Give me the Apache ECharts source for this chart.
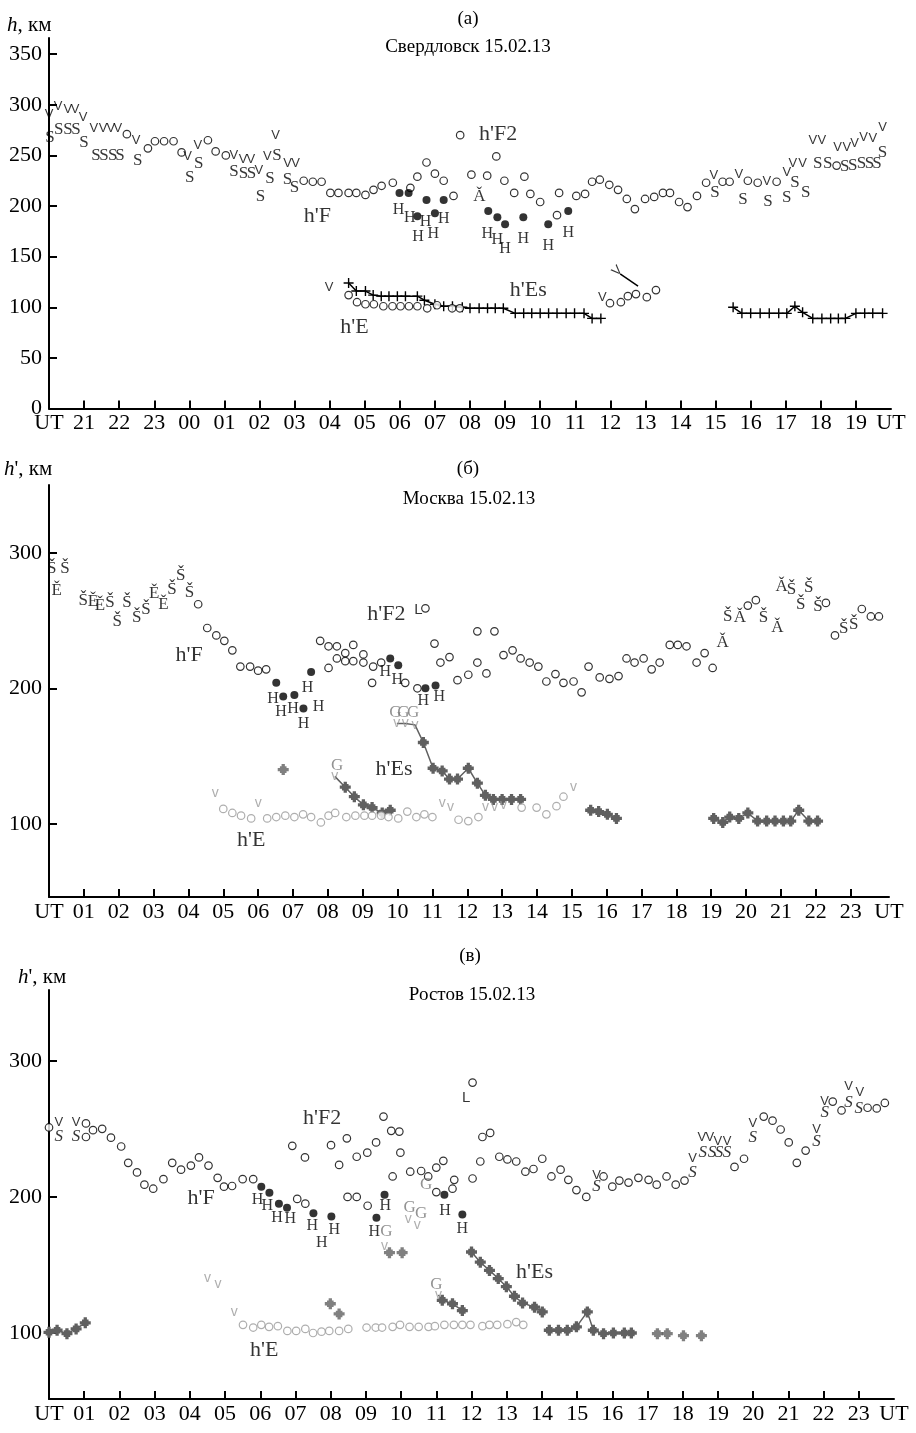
<!DOCTYPE html>
<html>
<head>
<meta charset="utf-8">
<script src="https://cdn.jsdelivr.net/npm/echarts@6/dist/echarts.min.js"></script>
<style>
html, body { margin: 0; background: #fff; }
#chart { width: 916px; height: 1433px; }
</style>
</head>
<body>
<div id="chart"></div>
<script>
// подписи осей
const hoursA = ['21','22','23','00','01','02','03','04','05','06','07','08','09','10','11','12','13','14','15','16','17','18','19']
const hoursBC = ['01','02','03','04','05','06','07','08','09','10','11','12','13','14','15','16','17','18','19','20','21','22','23']
const kmTicksA = [0, 50, 100, 150, 200, 250, 300, 350]
const kmTicksBC = [100, 200, 300]

// (а) Свердловск, часы от 20 UT
const aF2 = [[2.22,271],[2.82,257],[3.02,264],[3.28,264],[3.55,264],[3.78,253],[4.53,265],[4.75,254],[5.04,250],
  [7.26,225],[7.52,224],[7.77,224],[8.02,213],[8.25,213],[8.54,213],[8.76,213],[9.02,211],[9.25,216],[9.48,220],[9.8,223],
  [10.3,218],[10.5,229],[10.76,243],[11.0,232],[11.25,225],[11.53,210],[11.72,270],[12.04,231],[12.49,230],[12.75,249],
  [12.98,225],[13.26,213],[13.55,229],[13.72,212],[14.0,204],[14.48,191],[14.54,213],[15.03,210],[15.28,212],[15.48,224],
  [15.7,226],[15.97,221],[16.22,216],[16.47,207],[16.7,197],[16.99,207],[17.25,209],[17.5,213],[17.7,213],[17.96,204],
  [18.2,199],[18.47,210],[18.73,223],[19.2,224],[19.4,224],[19.92,225],[20.2,223],[20.74,224],[22.45,240]]
const aS = [[0.03,268],[0.28,276],[0.54,276],[0.77,276],[1.0,263],[1.34,250],[1.57,250],[1.82,250],[2.02,250],[2.53,245],
  [4.01,228],[4.27,242],[5.27,234],[5.54,232],[5.77,232],[6.03,209],[6.3,227],[6.5,250],[6.8,226],[7.0,218],
  [18.98,213],[19.78,206],[20.49,204],[21.03,208],[21.26,223],[21.57,213],[21.91,242],[22.2,242],[22.68,239],[22.91,240],
  [23.16,242],[23.39,242],[23.6,242],[23.76,253]]
const aV = [[0,291],[0.26,298],[0.54,295],[0.74,295],[0.97,288],[1.28,277],[1.54,277],[1.76,277],[1.96,277],[2.48,265],
  [3.95,249],[4.24,260],[5.27,250],[5.53,246],[5.75,246],[5.98,235],[6.22,249],[6.46,270],[6.8,242],[7.03,242],
  [7.98,120],[15.77,110],
  [18.95,230],[19.66,231],[20.46,224],[21.03,233],[21.2,242],[21.48,242],[21.77,265],[22.03,265],[22.48,258],[22.74,258],
  [22.96,262],[23.22,268],[23.48,267],[23.76,278]]
const aVtilt = [[16.2,136]]
const aA = [[12.27,209]]
const aDot = [[9.99,213],[10.25,213],[10.5,190],[10.76,206],[11.0,193],[11.25,206],[12.52,195],[12.78,189],[13.0,182],[13.52,189],[14.23,182],[14.8,195]]
const aH = [[9.96,196],[10.28,188],[10.52,170],[10.73,184],[10.95,173],[11.25,187],[12.49,173],[12.78,167],[13.0,158],[13.52,168],[14.23,161],[14.8,174]]
const aEs1 = [[8.54,124],[8.76,116],[9.02,116],[9.24,112],[9.47,111],[9.69,111],[9.93,111],[10.16,111],[10.5,111],[10.7,107],
  [11.0,103],[11.25,101],[11.5,101],[11.78,100],[12.0,99],[12.26,99],[12.5,99],[12.72,99],[12.95,99],[13.29,94],[13.53,94],
  [13.76,94],[14.0,94],[14.24,94],[14.48,94],[14.74,94],[14.98,94],[15.25,94],[15.48,89],[15.73,89]]
const aEs2 = [[19.5,100],[19.75,94],[20.0,94],[20.27,94],[20.53,94],[20.8,94],[21.03,94],[21.26,101],[21.48,95],[21.77,89],
  [22.03,89],[22.28,89],[22.5,89],[22.7,89],[23.0,94],[23.25,94],[23.48,94],[23.76,94]]
const aE = [[8.54,112],[8.78,105],[9.02,103],[9.26,103],[9.53,101],[9.79,101],[10.02,101],[10.26,101],[10.5,101],[10.78,99],
  [11.06,102],[11.49,99],[11.71,99],[15.99,104],[16.3,105],[16.5,111],[16.73,113],[17.04,110],[17.3,117]]
const aArrow = [[16.28,133],[16.79,121]]

// (б) Москва
const bF2 = [[4.28,262],[4.54,244.5],[4.8,239],[5.03,235],[5.26,228],[5.49,216],[5.77,216],[6.0,213],[6.23,214],
  [7.78,235],[8.02,231],[8.26,231],[8.5,226],[8.73,232],[9.02,225],[8.26,222],[8.5,220],[8.73,220],[9.02,219],[9.3,216],
  [8.02,215],[9.27,204],[9.53,219],[10.22,204],[10.57,200],[10.8,259],[11.06,233],[11.23,219],[11.49,223],[11.72,206],
  [12.03,210],[12.29,219],[12.29,242],[12.55,211],[12.78,242],[13.04,224.5],[13.3,228],[13.53,222],[13.79,219],[14.04,216],
  [14.27,205],[14.53,210.5],[14.76,204],[15.05,205],[15.28,197],[15.48,216],[15.8,208],[16.08,207],[16.34,209],[16.57,222],
  [16.8,219],[17.06,222],[17.29,214],[17.52,219],[17.81,232],[18.04,232],[18.29,231],[18.58,219],[18.81,226],[19.04,215],
  [20.05,261],[20.28,265],[22.29,263],[22.55,239],[23.32,258.5],[23.58,253],[23.81,253]]
const bS = [[0.08,288],[0.46,288],[0.98,265],[1.75,263],[1.96,249],[2.24,263],[2.52,252],[2.78,258],[3.53,273],[3.78,283],
  [4.03,271],[19.47,253],[20.5,252],[21.3,273],[21.8,274],[21.57,261.5],[22.06,260],[22.8,244],[23.09,247]]
const bE = [[0.22,272],[1.26,264],[1.46,261],[3.02,270],[3.28,262]]
const bA = [[19.33,234],[19.82,252],[20.9,244.5],[21.02,275]]
const bDot = [[6.52,204],[6.72,194],[7.04,195],[7.3,185],[7.52,212],[9.79,222],[10.02,217],[10.8,200],[11.09,202]]
const bH = [[6.43,192],[6.66,183],[7.0,185],[7.42,200],[7.73,186],[7.3,174],[9.65,212],[9.99,206],[10.74,191],[11.2,194]]
const bL = [[10.6,258]]
const bG = [[8.27,143],[9.94,182],[10.17,182],[10.45,182]]
const bVg = [[4.77,123],[6.0,115],[8.2,135],[9.98,174],[10.22,174],[10.5,173],[11.28,115],[11.52,112],[12.52,112],[12.78,112],[13.04,114],[15.05,127]]
const bEc = [[5.0,111],[5.26,108],[5.51,106],[5.8,104],[6.26,104],[6.52,105],[6.78,106],[7.04,105],[7.29,107],[7.52,105],
  [7.8,101],[8.02,106],[8.21,108],[8.53,105],[8.79,106],[9.05,106],[9.27,106],[9.53,106],[9.74,105],[10.02,104],[10.28,109],
  [10.54,105],[10.77,107],[11.0,105],[11.75,103],[12.03,102],[12.32,105],[13.56,112],[13.99,112],[14.27,107],[14.56,113],[14.76,120]]
const bEsDot = [[6.72,140]]
const bEs1 = [[8.2,135],[8.5,127],[8.76,120],[9.02,114],[9.27,112],[9.56,108],[9.79,110]]
const bEs2 = [[9.98,174],[10.22,174],[10.5,173],[10.74,160],[11.02,141],[11.28,139],[11.49,133],[11.72,133],[12.03,141],
  [12.29,130],[12.52,121],[12.75,118],[13.0,118],[13.27,118],[13.53,118]]
const bEs3 = [[15.54,110],[15.77,109],[16.02,107],[16.28,104]]
const bEs4 = [[19.07,104],[19.33,101],[19.53,105],[19.79,104],[20.05,108],[20.33,102],[20.59,102],[20.83,102],[21.07,102],
  [21.28,102],[21.51,110],[21.8,102],[22.05,102]]

// (в) Ростов
const cF2 = [[0.0,251],[1.05,254],[1.05,244],[1.25,249],[1.51,250],[1.76,243.5],[2.05,237],[2.25,225],[2.5,218],[2.71,209],
  [2.96,206],[3.25,213],[3.5,225],[3.75,220],[4.03,223],[4.26,229],[4.53,223],[4.79,214],[4.97,207.5],[5.2,208],[5.5,213],
  [5.8,213],[6.91,237.5],[7.27,229],[7.05,198.5],[7.28,195],[8.01,238],[8.24,223.5],[8.46,243],[8.74,229.5],[8.48,200],
  [8.74,200],[9.04,232.5],[9.05,193.5],[9.29,240],[9.5,259],[9.72,248.5],[9.95,248],[9.98,232.5],[9.76,215],[10.26,218.5],
  [10.57,219],[10.77,215],[11.0,221.5],[11.0,203.5],[11.2,226.5],[11.46,206],[11.51,212.5],[12.03,284],[12.31,244],
  [12.53,247],[12.25,226],[12.03,213.5],[12.79,229.5],[13.02,227.5],[13.27,226],[13.53,218.5],[13.76,220.5],[14.01,228],
  [14.27,215],[14.53,220],[14.75,212.5],[14.98,205],[15.26,200],[15.75,215],[16.0,207.5],[16.2,212],[16.46,210.5],
  [16.74,214],[17.03,212.5],[17.26,209],[17.54,215],[17.8,209],[18.05,212],[19.47,222],[19.74,228],[20.3,259],[20.55,256],
  [20.78,249.5],[21.01,240],[21.24,225],[21.49,234],[22.26,270],[22.51,263.5],[23.25,265.5],[23.51,265],[23.74,269]]
const cS = [[0.28,244],[0.77,244],[15.55,207.5],[18.28,218],[18.57,232.5],[18.83,232.5],[19.03,232.5],[19.26,232.5],
  [19.99,243.5],[21.8,240.5],[22.03,262],[22.71,269],[23.0,265]]
const cV = [[0.28,255],[0.77,255],[15.55,216],[18.28,228],[18.54,243.5],[18.77,243.5],[19.0,240.5],[19.26,240.5],
  [19.99,254],[21.8,249.5],[22.03,270],[22.71,281],[23.03,276.5]]
const cDot = [[6.03,207.5],[6.26,203],[6.53,195],[6.76,192],[7.51,188],[8.02,185.5],[9.3,184.6],[9.53,201.5],[11.23,201.5],[11.74,187]]
const cH = [[5.92,198],[6.2,193.5],[6.48,185],[6.85,184],[7.48,179],[7.75,166],[8.1,176],[9.24,174],[9.55,193.5],[11.25,190],[11.74,176.5]]
const cL = [[11.85,273]]
const cG = [[9.58,174.5],[10.24,192],[10.57,188],[10.71,209],[11.0,135.5]]
const cVg = [[4.5,140.5],[4.8,136],[5.26,115.5],[9.53,164],[10.2,184],[10.46,179.5],[11.06,128]]
const cEc = [[5.51,106],[5.8,104],[6.03,106],[6.25,104.5],[6.5,105],[6.77,101.5],[7.02,101.5],[7.28,103],[7.5,100],
  [7.74,101],[7.96,101.5],[8.24,101.5],[8.5,103],[9.02,104],[9.28,104],[9.46,104],[9.76,104.5],[9.97,106],[10.24,104.5],
  [10.5,104.5],[10.78,104.5],[10.96,105],[11.23,106],[11.5,106],[11.74,106],[11.97,106],[12.31,105],[12.51,106],
  [12.73,106],[13.02,106.5],[13.27,108],[13.47,106]]
const cEsDot = [[7.99,121.5],[8.24,114],[9.67,159],[10.03,159],[17.28,99.5],[17.56,99.5],[18.02,98],[18.53,98]]
const cEs0 = [[0.0,100.5],[0.23,102],[0.51,99.5],[0.77,103],[1.03,107.5]]
const cEs1 = [[11.06,128],[11.17,124],[11.46,121.5],[11.74,116.5]]
const cEs2 = [[12.0,159.5],[12.25,152],[12.51,146],[12.76,140],[12.99,134],[13.22,127],[13.45,122],[13.79,119],[14.01,115.5]]
const cEs3 = [[14.21,102],[14.47,102],[14.72,102],[14.98,104.5],[15.29,115.5],[15.46,102],[15.75,99.5],[16.03,100],[16.34,100],[16.54,100]]

// подписи слоёв
const layerA = [[7.65,190,"h'F"],[12.8,271,"h'F2"],[13.66,117,"h'Es"],[8.71,80,"h'E"]]
const layerB = [[4.02,224.6,"h'F"],[9.68,255,"h'F2"],[9.9,140,"h'Es"],[5.8,88,"h'E"]]
const layerC = [[4.32,199.3,"h'F"],[7.76,258,"h'F2"],[13.79,145,"h'Es"],[6.11,87.5,"h'E"]]

const SERIF = "'Liberation Serif','DejaVu Serif',serif"
const SANS = "'Liberation Sans','DejaVu Sans',sans-serif"
const GRAY = '#9a9a9a'
const DARK = '#606060'
const PLUS = 'path://M4.3,0H5.7V4.3H10V5.7H5.7V10H4.3V5.7H0V4.3H4.3Z'
const STAR = 'path://M3.5,0H6.5V2H8V3.5H10V6.5H8V8H6.5V10H3.5V8H2V6.5H0V3.5H2V2H3.5Z'

function xAxisFor(gi, max, labels) {
  const ticks = labels.map((l, i) => i + 1)
  return {
    gridIndex: gi, type: 'value', min: 0, max: max,
    axisLine: { show: true, onZero: false, lineStyle: { color: '#000', width: 2 } },
    axisTick: { show: true, inside: true, length: 8, lineStyle: { color: '#000', width: 2 }, customValues: ticks },
    axisLabel: {
      customValues: [0].concat(ticks, [max]),
      formatter: v => (v < 0.5 || v > max - 0.5) ? 'UT' : labels[Math.round(v) - 1],
      fontFamily: SERIF, fontSize: 22, color: '#000', margin: 4
    },
    splitLine: { show: false }
  }
}

function yAxisFor(gi, min, max, ticks) {
  return {
    gridIndex: gi, type: 'value', min: min, max: max,
    axisLine: { show: true, onZero: false, lineStyle: { color: '#000', width: 2 } },
    axisTick: { show: true, inside: true, length: 8, lineStyle: { color: '#000', width: 2 }, customValues: ticks },
    axisLabel: { customValues: ticks, fontFamily: SERIF, fontSize: 22, color: '#000', margin: 7 },
    splitLine: { show: false }
  }
}

function ring(gi, data, color) {
  return { type: 'scatter', xAxisIndex: gi, yAxisIndex: gi, data: data, symbol: 'circle', symbolSize: 7.5,
    itemStyle: { color: '#fff', borderColor: color, borderWidth: 1.2 }, z: 3 }
}
function dot(gi, data) {
  return { type: 'scatter', xAxisIndex: gi, yAxisIndex: gi, data: data, symbol: 'circle', symbolSize: 8,
    itemStyle: { color: '#000' }, z: 4 }
}
function letter(gi, data, text, opt) {
  opt = opt || {}
  return { type: 'scatter', xAxisIndex: gi, yAxisIndex: gi, data: data, symbol: 'circle', symbolSize: 1,
    itemStyle: { color: 'rgba(0,0,0,0)' },
    label: { show: true, position: 'inside', formatter: text, color: opt.color || '#000',
      fontFamily: opt.font || SERIF, fontSize: opt.size || 17, fontStyle: opt.style || 'normal', rotate: opt.rotate || 0 },
    z: 5 }
}
function esLine(gi, data, lead, symbol, color, size) {
  return { type: 'line', xAxisIndex: gi, yAxisIndex: gi, symbol: symbol, symbolSize: size,
    data: data.map((p, i) => i < lead ? { value: p, symbol: 'none' } : p),
    itemStyle: { color: color }, lineStyle: { color: color, width: 1.5 }, z: 2 }
}
function esDot(gi, data) {
  return { type: 'scatter', xAxisIndex: gi, yAxisIndex: gi, data: data, symbol: STAR, symbolSize: 11,
    itemStyle: { color: DARK }, z: 2 }
}
function layer(gi, data) {
  return { type: 'scatter', xAxisIndex: gi, yAxisIndex: gi, data: data, symbol: 'circle', symbolSize: 1,
    itemStyle: { color: 'rgba(0,0,0,0)' },
    label: { show: true, position: 'inside', formatter: p => p.value[2], color: '#000', fontFamily: SERIF, fontSize: 22 },
    z: 6 }
}

function caption(x, y, text, size, align) {
  return { type: 'text', x: x, y: y, style: { text: text, fill: '#000', font: size + 'px ' + SERIF,
    align: align || 'center', verticalAlign: 'middle' } }
}
function unitLabel(x, y, prime) {
  return { type: 'text', x: x, y: y, style: {
    text: '{i|h}{n|' + (prime ? "'" : '') + ', км}',
    align: 'left', verticalAlign: 'middle',
    rich: { i: { fontStyle: 'italic', fontFamily: SERIF, fontSize: 21, fill: '#000' },
            n: { fontFamily: SERIF, fontSize: 21, fill: '#000' } } } }
}

const chart = echarts.init(document.getElementById('chart'))

chart.setOption({
  animation: false,
  backgroundColor: '#fff',
  grid: [
    { left: 49, top: 38, width: 842, height: 370.5 },
    { left: 49, top: 485, width: 840, height: 412 },
    { left: 49, top: 990, width: 845, height: 409 }
  ],
  xAxis: [xAxisFor(0, 24, hoursA), xAxisFor(1, 24.1, hoursBC), xAxisFor(2, 24, hoursBC)],
  yAxis: [yAxisFor(0, 0, 366, kmTicksA), yAxisFor(1, 46, 350, kmTicksBC), yAxisFor(2, 51.5, 352, kmTicksBC)],
  graphic: [
    caption(468, 19, '(а)', 19),
    caption(468, 47, 'Свердловск 15.02.13', 19),
    unitLabel(7, 25, false),
    caption(468, 469, '(б)', 19),
    caption(469, 499, 'Москва 15.02.13', 19),
    unitLabel(4, 469, true),
    caption(470, 956, '(в)', 19),
    caption(472, 995, 'Ростов 15.02.13', 19),
    unitLabel(18, 977, true)
  ],
  series: [
    // (а)
    esLine(0, aEs1, 0, PLUS, '#000', 10),
    esLine(0, aEs2, 0, PLUS, '#000', 10),
    { type: 'line', xAxisIndex: 0, yAxisIndex: 0, data: aArrow, symbol: 'none', lineStyle: { color: '#000', width: 1.5 } },
    ring(0, aE, '#000'),
    ring(0, aF2, '#000'),
    dot(0, aDot),
    letter(0, aS, 'S'),
    letter(0, aV, 'V', { font: SANS, size: 13 }),
    letter(0, aVtilt, 'V', { font: SANS, size: 13, rotate: 45 }),
    letter(0, aA, 'Ǎ'),
    letter(0, aH, 'H', { size: 16 }),
    layer(0, layerA),
    // (б)
    esDot(1, bEsDot),
    esLine(1, bEs1, 1, STAR, DARK, 11),
    esLine(1, bEs2, 3, STAR, DARK, 11),
    esLine(1, bEs3, 0, STAR, DARK, 11),
    esLine(1, bEs4, 0, STAR, DARK, 11),
    ring(1, bEc, GRAY),
    ring(1, bF2, '#000'),
    dot(1, bDot),
    letter(1, bS, 'Š'),
    letter(1, bE, 'Ě'),
    letter(1, bA, 'Ǎ'),
    letter(1, bH, 'H', { size: 16 }),
    letter(1, bL, 'L', { font: SANS, size: 15 }),
    letter(1, bG, 'G', { color: '#777', size: 17 }),
    letter(1, bVg, 'v', { color: GRAY, font: SANS, size: 14 }),
    layer(1, layerB),
    // (в)
    esDot(2, cEsDot),
    esLine(2, cEs0, 0, STAR, DARK, 11),
    esLine(2, cEs1, 1, STAR, DARK, 11),
    esLine(2, cEs2, 0, STAR, DARK, 11),
    esLine(2, cEs3, 0, STAR, DARK, 11),
    ring(2, cEc, GRAY),
    ring(2, cF2, '#000'),
    dot(2, cDot),
    letter(2, cS, 'S', { style: 'italic' }),
    letter(2, cV, 'V', { font: SANS, size: 13 }),
    letter(2, cH, 'H', { size: 16 }),
    letter(2, cL, 'L', { font: SANS, size: 15 }),
    letter(2, cG, 'G', { color: '#777', size: 17 }),
    letter(2, cVg, 'v', { color: GRAY, font: SANS, size: 14 }),
    layer(2, layerC)
  ]
})
</script>
</body>
</html>
